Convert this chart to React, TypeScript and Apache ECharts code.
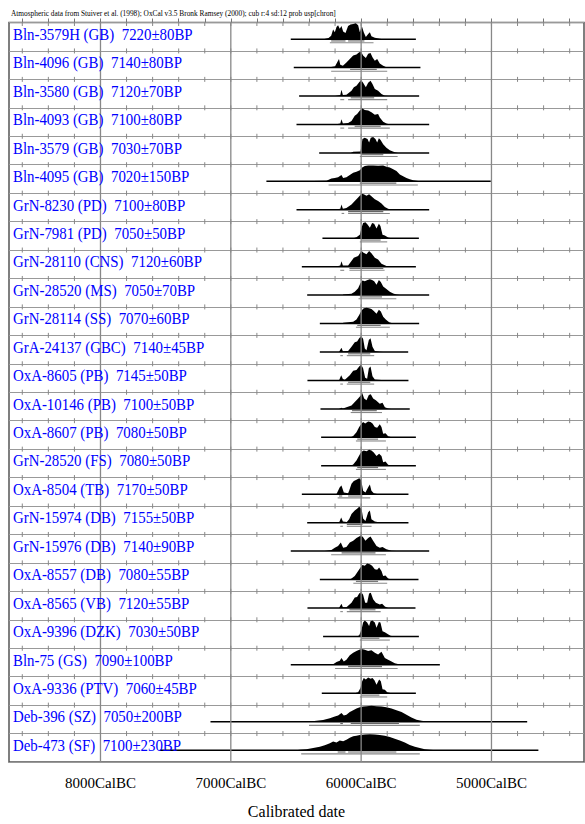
import React, { useEffect, useRef } from "react";
import * as echarts from "echarts";

const HEADER =
  "Atmospheric data from Stuiver et al. (1998); OxCal v3.5 Bronk Ramsey (2000); cub r:4 sd:12 prob usp[chron]";

const SAMPLES = [
  "Bln-3579H (GB)", "Bln-4096 (GB)", "Bln-3580 (GB)", "Bln-4093 (GB)", "Bln-3579 (GB)",
  "Bln-4095 (GB)", "GrN-8230 (PD)", "GrN-7981 (PD)", "GrN-28110 (CNS)", "GrN-28520 (MS)",
  "GrN-28114 (SS)", "GrA-24137 (GBC)", "OxA-8605 (PB)", "OxA-10146 (PB)", "OxA-8607 (PB)",
  "GrN-28520 (FS)", "OxA-8504 (TB)", "GrN-15974 (DB)", "GrN-15976 (DB)", "OxA-8557 (DB)",
  "OxA-8565 (VB)", "OxA-9396 (DZK)", "Bln-75 (GS)", "OxA-9336 (PTV)", "Deb-396 (SZ)", "Deb-473 (SF)",
];

const DATES = [
  "7220±80BP", "7140±80BP", "7120±70BP", "7100±80BP", "7030±70BP",
  "7020±150BP", "7100±80BP", "7050±50BP", "7120±60BP", "7050±70BP",
  "7070±60BP", "7140±45BP", "7145±50BP", "7100±50BP", "7080±50BP",
  "7080±50BP", "7170±50BP", "7155±50BP", "7140±90BP", "7080±55BP",
  "7120±55BP", "7030±50BP", "7090±100BP", "7060±45BP", "7050±200BP", "7100±230BP",
];

// full extent of each plotted distribution (years cal BC)
const RANGE_START = [6540, 6517, 6476, 6496, 6322, 6727, 6496, 6297, 6455, 6414, 6317, 6317, 6412, 6312, 6307, 6307, 6455, 6414, 6540, 6317, 6412, 6292, 6540, 6302, 7156, 7545];
const RANGE_END = [5580, 5545, 5555, 5478, 5478, 5005, 5478, 5557, 5580, 5478, 5555, 5639, 5637, 5627, 5580, 5580, 5637, 5637, 5478, 5560, 5583, 5557, 5396, 5580, 4726, 4640];

// 68.2% ranges
const SIGMA1 = [
  [[6230, 6120], [6100, 5975]], [[6085, 5880]], [[6080, 5900]], [[6050, 5850]], [[6000, 5830]],
  [[6010, 5730]], [[6100, 5830]], [[6000, 5850]], [[6090, 5830]], [[6010, 5840]],
  [[6030, 5850]], [[6100, 5930]], [[6100, 5930]], [[6070, 5880]], [[6030, 5870]],
  [[6030, 5870]], [[6170, 6145], [6100, 5990]], [[6110, 5990]], [[6150, 5890]], [[6040, 5870]],
  [[6090, 5890]], [[6000, 5860]], [[6100, 5840]], [[6000, 5860]], [[6160, 6140], [6080, 5710]], [[6180, 6120], [6100, 5730]],
];
// 95.4% ranges
const SIGMA2 = [
  [[6240, 5905]], [[6230, 5800]], [[6160, 6130], [6100, 5800]], [[6160, 6130], [6100, 5780]], [[6010, 5720]],
  [[6250, 5565]], [[6150, 6130], [6100, 5780]], [[6010, 5800]], [[6160, 6130], [6090, 5820]], [[6020, 5730]],
  [[6040, 5780]], [[6160, 6140], [6110, 5900]], [[6160, 6140], [6110, 5900]], [[6080, 5840]], [[6040, 5810]],
  [[6040, 5810]], [[6180, 5930]], [[6160, 6140], [6110, 5920]], [[6230, 5810]], [[6060, 5800]],
  [[6160, 6140], [6110, 5850]], [[6010, 5780]], [[6200, 5720]], [[6010, 5800]], [[6400, 5550]], [[6460, 5550]],
];

// probability distributions: [year cal BC, relative probability]
const D01 = [[6290,0],[6250,3],[6230,10],[6215,28],[6202,20],[6189,35],[6177,40],[6164,30],[6151,38],[6138,22],[6120,18],[6100,38],[6082,42],[6061,44],[6041,46],[6023,40],[6010,20],[5995,38],[5980,20],[5964,6],[5946,15],[5933,20],[5921,8],[5895,4],[5857,1],[5831,0]];
const D02 = [[6250,0],[6230,2],[6200,4],[6170,25],[6160,8],[6140,5],[6113,15],[6087,25],[6061,35],[6036,38],[6015,44],[6000,46],[5985,35],[5964,28],[5946,40],[5928,42],[5913,30],[5895,20],[5877,25],[5857,12],[5831,5],[5806,1],[5780,0]];
const D03 = [[6200,0],[6160,3],[6151,18],[6140,3],[6113,4],[6074,15],[6056,25],[6036,30],[6015,40],[6000,46],[5985,38],[5964,25],[5946,38],[5928,44],[5913,35],[5895,20],[5870,15],[5844,6],[5818,1],[5790,0]];
const D04 = [[6200,0],[6160,3],[6151,15],[6140,3],[6100,4],[6074,10],[6049,25],[6031,30],[6010,40],[5990,46],[5972,42],[5946,40],[5921,35],[5895,28],[5870,30],[5857,20],[5831,8],[5806,3],[5780,0]];
const D05 = [[6080,0],[6061,3],[6005,4],[6000,15],[5990,40],[5972,44],[5951,40],[5939,30],[5926,44],[5908,46],[5890,40],[5877,30],[5864,42],[5852,38],[5831,25],[5806,15],[5780,8],[5742,2],[5716,0]];
const D06 = [[6420,0],[6368,1],[6266,2],[6228,8],[6202,10],[6177,12],[6151,18],[6138,10],[6113,12],[6087,18],[6061,25],[6036,28],[6010,32],[5992,40],[5972,44],[5946,46],[5908,46],[5870,45],[5831,46],[5806,42],[5780,40],[5754,35],[5729,30],[5703,20],[5678,15],[5652,10],[5627,6],[5601,3],[5563,1],[5524,0]];
const D07 = [[6200,0],[6160,3],[6151,15],[6140,3],[6113,5],[6074,15],[6049,25],[6023,35],[5997,45],[5980,44],[5959,40],[5939,44],[5921,38],[5895,30],[5870,25],[5844,18],[5818,8],[5793,3],[5767,0]];
const D08 = [[6060,0],[6036,3],[6010,10],[5997,30],[5985,44],[5967,46],[5951,40],[5933,30],[5916,44],[5900,42],[5882,28],[5864,42],[5852,35],[5836,10],[5818,8],[5793,2],[5767,0]];
const D09 = [[6200,0],[6160,3],[6151,15],[6140,3],[6100,3],[6056,25],[6023,30],[5997,45],[5985,40],[5959,35],[5939,44],[5921,38],[5895,25],[5870,20],[5844,8],[5806,2],[5780,0]];
const D10 = [[6140,0],[6138,2],[6074,4],[6049,10],[6023,20],[6005,35],[5990,42],[5972,40],[5951,44],[5933,46],[5916,44],[5900,40],[5882,30],[5864,44],[5849,38],[5831,25],[5806,18],[5780,10],[5754,5],[5729,2],[5703,0]];
const D11 = [[6140,0],[6138,2],[6061,5],[6036,12],[6015,25],[5997,38],[5980,44],[5959,46],[5939,44],[5921,42],[5903,36],[5882,28],[5864,40],[5849,35],[5831,20],[5811,12],[5785,4],[5754,0]];
const D12 = [[6170,0],[6151,12],[6140,2],[6100,3],[6074,15],[6049,28],[6031,30],[6015,40],[6000,46],[5985,38],[5972,10],[5959,5],[5941,35],[5928,40],[5913,15],[5895,3],[5857,1],[5831,0]];
const D13 = [[6170,0],[6153,15],[6140,4],[6125,2],[6087,15],[6061,28],[6036,30],[6015,40],[6000,46],[5985,35],[5969,8],[5954,5],[5941,35],[5928,40],[5913,12],[5895,3],[5844,1],[5820,0]];
const D14 = [[6170,0],[6151,3],[6140,1],[6074,10],[6049,20],[6023,30],[6005,38],[5992,46],[5977,30],[5959,25],[5941,40],[5926,42],[5908,30],[5887,25],[5857,15],[5836,18],[5818,5],[5793,1],[5770,0]];
const D15 = [[6080,0],[6061,4],[6036,15],[6015,30],[6000,38],[5985,44],[5969,40],[5946,46],[5928,44],[5913,40],[5895,30],[5877,28],[5857,38],[5844,30],[5831,10],[5813,12],[5793,3],[5767,0]];
const D16 = [[6080,0],[6061,4],[6036,15],[6015,30],[6000,40],[5980,44],[5959,42],[5939,46],[5921,44],[5903,38],[5882,28],[5862,35],[5844,28],[5831,10],[5813,12],[5793,3],[5767,0]];
const D17 = [[6190,0],[6164,20],[6151,25],[6133,5],[6100,3],[6092,10],[6074,30],[6056,38],[6036,42],[6015,46],[6000,42],[5985,10],[5967,5],[5946,20],[5933,28],[5921,10],[5903,3],[5870,0]];
const D18 = [[6170,0],[6153,15],[6140,3],[6110,2],[6092,10],[6074,25],[6049,35],[6031,40],[6015,46],[5997,40],[5985,12],[5967,5],[5946,30],[5933,35],[5921,10],[5895,3],[5844,0]];
const D19 = [[6280,0],[6228,3],[6202,10],[6177,15],[6156,25],[6138,10],[6113,12],[6087,25],[6061,30],[6036,38],[6015,42],[6000,46],[5985,40],[5967,30],[5946,38],[5928,42],[5908,30],[5882,15],[5857,10],[5836,12],[5806,5],[5767,1],[5729,0]];
const D20 = [[6090,0],[6074,3],[6049,10],[6023,25],[6005,35],[5990,42],[5972,40],[5954,46],[5933,44],[5916,40],[5895,30],[5877,28],[5862,35],[5844,25],[5831,10],[5813,12],[5793,3],[5767,0]];
const D21 = [[6170,0],[6151,12],[6140,2],[6113,2],[6074,15],[6049,30],[6031,32],[6015,42],[6000,46],[5985,38],[5969,15],[5954,15],[5939,42],[5926,44],[5908,25],[5887,15],[5857,10],[5839,12],[5818,4],[5793,0]];
const D22 = [[6040,0],[6015,3],[5997,20],[5985,40],[5972,46],[5954,40],[5939,30],[5928,44],[5913,46],[5895,40],[5882,25],[5864,42],[5852,40],[5836,15],[5818,12],[5800,8],[5775,2],[5742,0]];
const D23 = [[6240,0],[6215,2],[6189,8],[6164,12],[6151,20],[6133,10],[6113,15],[6087,28],[6061,35],[6036,40],[6015,44],[5997,46],[5972,44],[5946,40],[5921,42],[5895,35],[5870,30],[5844,38],[5818,20],[5793,15],[5767,10],[5742,5],[5703,1],[5678,0]];
const D24 = [[6050,0],[6023,3],[6005,15],[5992,35],[5980,44],[5964,40],[5946,46],[5928,42],[5913,44],[5898,38],[5882,25],[5862,40],[5849,35],[5836,12],[5818,10],[5800,3],[5767,0]];
const D25 = [[6420,0],[6394,1],[6343,3],[6292,5],[6240,10],[6202,15],[6177,18],[6151,25],[6133,18],[6113,20],[6087,28],[6061,33],[6036,38],[6010,42],[5985,44],[5959,45],[5921,46],[5882,45],[5844,44],[5806,42],[5767,38],[5729,33],[5690,28],[5652,20],[5614,12],[5575,6],[5537,3],[5499,1],[5447,0]];
const D26 = [[6500,0],[6471,1],[6420,3],[6368,6],[6317,10],[6279,14],[6240,20],[6215,25],[6189,22],[6164,28],[6138,26],[6113,30],[6087,36],[6061,40],[6036,42],[6010,44],[5972,45],[5933,46],[5895,45],[5857,44],[5818,42],[5780,38],[5742,33],[5703,28],[5665,22],[5627,15],[5588,10],[5550,6],[5511,3],[5473,1],[5422,0]];

const DENSITIES = [D01, D02, D03, D04, D05, D06, D07, D08, D09, D10, D11, D12, D13, D14, D15, D16, D17, D18, D19, D20, D21, D22, D23, D24, D25, D26];

const MAJOR_TICKS = [8000, 7000, 6000, 5000];
const MINOR_TICKS = [8600, 8400, 8200, 8000, 7800, 7600, 7400, 7200, 7000, 6800, 6600, 6400, 6200, 6000, 5800, 5600, 5400, 5200, 5000, 4800, 4600, 4400];
const X_MIN = 4290;
const X_MAX = 8702;

const SERIF = '"Liberation Serif", "Times New Roman", serif';

export default function App() {
  const ref = useRef<HTMLDivElement>(null);

  useEffect(() => {
    const chart = echarts.init(ref.current!, null, { renderer: "svg" });
    const nRows = SAMPLES.length;
    const ROW_BASE = 0.585;
    const PEAK = 0.56;
    const S1 = 0.063;
    const S2 = 0.128;

    const seg = (api: any, a: number, b: number, y: number, stroke: string, w: number) => {
      const p = api.coord([a, y]);
      const q = api.coord([b, y]);
      return { type: "line", shape: { x1: p[0], y1: p[1], x2: q[0], y2: q[1] }, style: { stroke, lineWidth: w } };
    };

    chart.setOption({
      animation: false,
      backgroundColor: "#ffffff",
      graphic: [
        {
          type: "text",
          left: 11,
          top: 9,
          scaleX: 0.92,
          style: { text: HEADER, fontFamily: SERIF, fontSize: 8, fill: "#000" },
        },
      ],
      grid: {
        left: 9,
        top: 22.5,
        width: 575,
        height: 745.5,
        show: true,
        borderColor: "#555",
        borderWidth: 1.5,
        backgroundColor: "transparent",
      },
      xAxis: {
        type: "value",
        inverse: true,
        min: X_MIN,
        max: X_MAX,
        name: "Calibrated date",
        nameLocation: "middle",
        nameGap: 41,
        nameTextStyle: { fontFamily: SERIF, fontSize: 16, color: "#000" },
        axisLine: { show: false },
        splitLine: { show: false },
        axisTick: {
          show: true,
          inside: true,
          length: 4,
          customValues: MINOR_TICKS,
          lineStyle: { color: "#777", width: 1 },
        },
        axisLabel: {
          customValues: MAJOR_TICKS,
          formatter: (v: number) => `${v}CalBC`,
          fontFamily: SERIF,
          fontSize: 15,
          color: "#000",
          margin: 13,
        },
      },
      yAxis: {
        type: "value",
        inverse: true,
        min: 0,
        max: nRows,
        interval: 1,
        axisLine: { show: false },
        axisTick: { show: false },
        axisLabel: { show: false },
        splitLine: { show: true, lineStyle: { color: "#999", width: 1 } },
      },
      series: [
        {
          type: "custom",
          name: "distributions",
          z: 2,
          clip: false,
          data: SAMPLES.map((_, i) => [6000, i]),
          encode: { x: 0, y: 1 },
          renderItem: (params: any, api: any) => {
            const i = api.value(1) as number;
            const dens = DENSITIES[i];
            const maxD = Math.max(...dens.map((d) => d[1]));
            const base = i + ROW_BASE;
            const pts = dens.map(([yr, p]) => api.coord([yr, base - (p / maxD) * PEAK]));
            const children: any[] = [
              { type: "polygon", shape: { points: pts }, style: { fill: "#000" } },
              seg(api, RANGE_START[i], RANGE_END[i], base, "#000", 1.5),
            ];
            SIGMA2[i].forEach(([a, b]) => children.push(seg(api, a, b, base + S2, "#888", 1.1)));
            SIGMA1[i].forEach(([a, b]) => children.push(seg(api, a, b, base + S1, "#666", 1.1)));
            return { type: "group", children };
          },
        },
        {
          type: "custom",
          name: "gridlines",
          z: 3,
          clip: false,
          silent: true,
          data: MAJOR_TICKS.map((y) => [y, 0]),
          encode: { x: 0, y: 1 },
          renderItem: (params: any, api: any) => {
            const yr = api.value(0) as number;
            const a = api.coord([yr, 0]);
            const b = api.coord([yr, nRows]);
            return {
              type: "line",
              shape: { x1: a[0], y1: a[1], x2: b[0], y2: b[1] },
              style: { stroke: "#888", lineWidth: 1.3 },
            };
          },
        },
        {
          type: "custom",
          name: "rowticks",
          z: 3,
          clip: false,
          silent: true,
          data: SAMPLES.map((_, j) => [6000, j]),
          encode: { x: 0, y: 1 },
          renderItem: (params: any, api: any) => {
            const j = api.value(1) as number;
            const children = MINOR_TICKS.map((yr) => {
              const c = api.coord([yr, j]);
              const up = j === 0 ? 0 : 2.5;
              return {
                type: "line",
                shape: { x1: c[0], y1: c[1] - up, x2: c[0], y2: c[1] + (j === 0 ? 3.5 : 2.5) },
                style: { stroke: "#888", lineWidth: 1 },
              };
            });
            return { type: "group", children };
          },
        },
        {
          type: "custom",
          name: "labels",
          z: 4,
          clip: false,
          silent: true,
          data: SAMPLES.map((_, i) => [X_MAX, i]),
          encode: { x: 0, y: 1 },
          renderItem: (params: any, api: any) => {
            const i = api.value(1) as number;
            const p = api.coord([X_MAX, i + 0.41]);
            return {
              type: "text",
              x: p[0] + 4,
              y: p[1],
              scaleX: 0.93,
              style: {
                text: `{n|${SAMPLES[i]}}{d|${DATES[i]}}`,
                rich: {
                  n: { fontFamily: SERIF, fontSize: 16, fill: "#0000ff" },
                  d: { fontFamily: SERIF, fontSize: 16, fill: "#0000ff", padding: [0, 0, 0, 8] },
                },
                fontFamily: SERIF,
                fontSize: 16,
                fill: "#0000ff",
                verticalAlign: "middle",
                align: "left",
              },
            };
          },
        },
      ],
    });

    return () => chart.dispose();
  }, []);

  return (
    <div
      ref={ref}
      style={{ position: "absolute", left: 0, top: 0, width: 585, height: 824, background: "#fff" }}
    />
  );
}
